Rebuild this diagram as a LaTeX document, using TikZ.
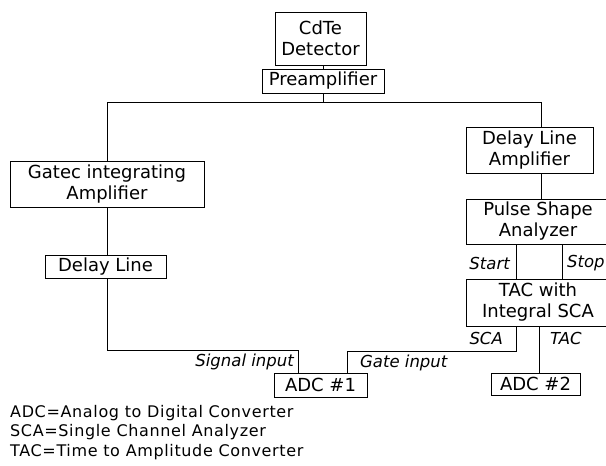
\documentclass[tikz,border=0pt]{standalone}
\usepackage{fontspec}
\setmainfont{DejaVu Sans}
\usepackage{tikz}
\usetikzlibrary{positioning}
\tikzstyle{block} = [draw, line width=0.9pt, inner sep=0pt, align=center, font=\fontsize{18}{21}\selectfont]
\tikzstyle{wire} = [line width=0.8pt]
\tikzstyle{tag} = [inner sep=0pt, font=\fontsize{16.5}{18}\selectfont\itshape]
\tikzstyle{legend} = [inner sep=0pt, anchor=west, font=\fontsize{16}{18}\selectfont\addfontfeature{LetterSpace=4}]

\begin{document}
\begin{tikzpicture}[x=1pt, y=-1pt]
\useasboundingbox (0,0) rectangle (606,466);
% boxes
\node[block, minimum width=91pt, minimum height=53pt] (cdte) at (320.5,38.5) {CdTe\\Detector};
\node[block, minimum width=122pt, minimum height=24pt] (pre) at (323,81) {Preamplifier};
\node[block, minimum width=194pt, minimum height=46pt] (gia) at (107,184) {Gatec integrating\\Amplifier};
\node[block, minimum width=121pt, minimum height=23pt] (dl) at (105.5,266.5) {Delay Line};
\node[block, minimum width=127pt, minimum height=46pt] (dla) at (529.5,150) {Delay Line\\Amplifier};
\node[block, minimum width=144pt, minimum height=45pt] (psa) at (538,221.5) {Pulse Shape\\Analyzer};
\node[block, minimum width=144pt, minimum height=47pt] (tac) at (538,302.5) {TAC with\\Integral SCA};
\node[block, minimum width=93pt, minimum height=24pt] (adc1) at (320.5,385) {ADC \#1};
\node[block, minimum width=89pt, minimum height=22pt] (adc2) at (535.5,384) {ADC \#2};
% turning points of the wires
\coordinate (busL) at (107,102);
\coordinate (busR) at (541,102);
\coordinate (sig) at (298,350);
\coordinate (gate) at (347,351);
\coordinate (sca) at (516,351);
\coordinate (start) at (516,262);
\coordinate (stop) at (562,262);
\coordinate (tacout) at (539,340);
% wires
\draw[wire] (cdte.south -| pre.north) -- (pre.north);
\draw[wire] (pre.south) |- (busL) -- (busL |- gia.north);
\draw[wire] (pre.south) |- (busR) -- (busR |- dla.north);
\draw[wire] (busR |- dla.south) -- (busR |- psa.north);
\draw[wire] (gia.south) -- (gia.south |- dl.north);
\draw[wire] (gia.south |- dl.south) |- (sig) -- (sig |- adc1.north);
\draw[wire] (gate |- adc1.north) -- (gate) -- (sca) -- (sca |- tac.south);
\draw[wire] (start |- psa.south) -- (start |- tac.north);
\draw[wire] (stop |- psa.south) -- (stop |- tac.north);
\draw[wire] (tacout |- tac.south) -- (tacout |- adc2.north);
% labels
\node[tag, anchor=east] (lstart) at (510,263) {Start};
\node[tag, anchor=west] (lstop) at (567,263) {Stop};
\node[tag, anchor=east] (lsca) at (503,338) {SCA};
\node[tag, anchor=west] (ltac) at (550,338) {TAC};
\node[tag, anchor=east] (lsig) at (294,362) {Signal input};
\node[tag, anchor=west] (lgate) at (360,363) {Gate input};
% legend
\node[legend] (k1) at (10,413) {ADC=Analog to Digital Converter};
\node[legend] (k2) at (10,432) {SCA=Single Channel Analyzer};
\node[legend] (k3) at (10,452) {TAC=Time to Amplitude Converter};
\end{tikzpicture}
\end{document}
